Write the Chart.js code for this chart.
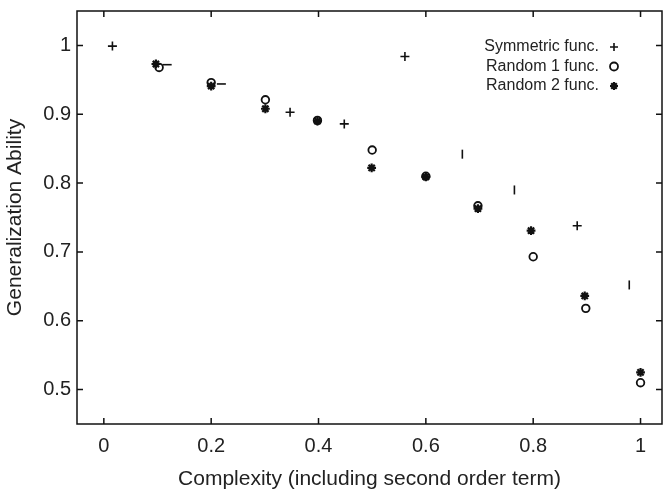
<!DOCTYPE html>
<html lang="en">
<head>
  <meta charset="UTF-8">
  <title>Generalization Ability vs Complexity</title>
  <script src="https://cdn.jsdelivr.net/npm/chart.js"></script>
  <style>
    html, body { margin: 0; padding: 0; background: #fff; }
  </style>
</head>
<body>
  <canvas id="chart" width="663" height="493"></canvas>

  <script>
    // Values
    const symX   = [0.016, 0.118, 0.219, 0.347, 0.448, 0.561, 0.668, 0.765, 0.882, 0.979];
    const symY   = [0.999, 0.972, 0.944, 0.903, 0.886, 0.984, 0.842, 0.790, 0.738, 0.652];
    const rand1X = [0.103, 0.200, 0.301, 0.398, 0.500, 0.600, 0.697, 0.800, 0.898, 1.000];
    const rand1Y = [0.968, 0.946, 0.921, 0.891, 0.848, 0.810, 0.767, 0.693, 0.618, 0.510];
    const rand2X = [0.097, 0.200, 0.301, 0.398, 0.499, 0.600, 0.697, 0.796, 0.896, 1.000];
    const rand2Y = [0.973, 0.941, 0.908, 0.890, 0.822, 0.809, 0.763, 0.731, 0.636, 0.525];
    const seriesNames = ['Symmetric func.', 'Random 1 func.', 'Random 2 func.'];
    const xTicks = [0, 0.2, 0.4, 0.6, 0.8, 1];
    const yTicks = [0.5, 0.6, 0.7, 0.8, 0.9, 1];

    // the symmetric markers show up partly as dashes / bars in the figure
    const symShape = ['cross', 'line', 'line', 'cross', 'cross', 'cross', 'line', 'line', 'cross', 'line'];
    const symRot   = [0, 0, 0, 0, 0, 0, 90, 90, 0, 90];

    const ink = '#111';
    const textColor = '#222';
    const fontFamily = '"Liberation Sans", Arial, Helvetica, sans-serif';

    const toPoints = (xs, ys) => xs.map((x, i) => ({ x: x, y: ys[i] }));
    const fmt = v => String(+Number(v).toFixed(2));

    // frame, inward tick marks and the in-plot legend
    const framePlugin = {
      id: 'frame',
      afterDraw(chart) {
        const { ctx, chartArea: a, scales } = chart;
        const len = 6;
        ctx.save();
        ctx.strokeStyle = ink;
        ctx.lineWidth = 1.5;
        ctx.strokeRect(a.left, a.top, a.right - a.left, a.bottom - a.top);

        ctx.beginPath();
        xTicks.forEach(v => {
          const px = scales.x.getPixelForValue(v);
          ctx.moveTo(px, a.bottom); ctx.lineTo(px, a.bottom - len);
          ctx.moveTo(px, a.top); ctx.lineTo(px, a.top + len);
        });
        yTicks.forEach(v => {
          const py = scales.y.getPixelForValue(v);
          ctx.moveTo(a.left, py); ctx.lineTo(a.left + len, py);
          ctx.moveTo(a.right, py); ctx.lineTo(a.right - len, py);
        });
        ctx.stroke();

        // legend: text right-aligned, marker to its right
        ctx.font = '16px ' + fontFamily;
        ctx.textAlign = 'right';
        ctx.textBaseline = 'middle';
        const textRight = a.right - 63;
        const markX = a.right - 48;
        chart.data.datasets.forEach((ds, i) => {
          const y = a.top + 36 + i * 19.5;
          ctx.fillStyle = textColor;
          ctx.fillText(ds.label, textRight, y);
          ctx.strokeStyle = ink;
          ctx.fillStyle = ds.backgroundColor;
          ctx.lineWidth = ds.pointBorderWidth;
          Chart.helpers.drawPoint(ctx, {
            pointStyle: ds.legendStyle,
            radius: 4,
            rotation: 0,
            borderWidth: ds.pointBorderWidth
          }, markX, y);
        });
        ctx.restore();
      }
    };

    const fixedTicks = list => scale => {
      scale.ticks = list.map(v => ({ value: v }));
    };

    // fixed axis sizes, no extra label overhang padding
    const fitAxis = (w, h) => scale => {
      if (w) scale.width = w;
      if (h) scale.height = h;
      scale.paddingTop = scale.paddingBottom = 0;
      scale.paddingLeft = scale.paddingRight = 0;
    };

    new Chart(document.getElementById('chart'), {
      type: 'scatter',
      data: {
        datasets: [
          {
            label: seriesNames[0],
            data: toPoints(symX, symY),
            legendStyle: 'cross',
            pointStyle: symShape,
            rotation: symRot,
            pointRadius: 4.5,
            pointBorderWidth: 1.6,
            borderColor: ink,
            backgroundColor: ink
          },
          {
            label: seriesNames[1],
            data: toPoints(rand1X, rand1Y),
            legendStyle: 'circle',
            pointStyle: 'circle',
            pointRadius: 3.8,
            pointBorderWidth: 1.8,
            borderColor: ink,
            backgroundColor: 'rgba(0,0,0,0)'
          },
          {
            label: seriesNames[2],
            data: toPoints(rand2X, rand2Y),
            legendStyle: 'star',
            pointStyle: 'star',
            pointRadius: 4.4,
            pointBorderWidth: 2.2,
            borderColor: ink,
            backgroundColor: ink
          }
        ]
      },
      options: {
        responsive: false,
        animation: false,
        layout: {
          autoPadding: false,
          padding: { top: 11, right: 1, left: 0, bottom: 0 }
        },
        plugins: {
          legend: { display: false },
          tooltip: { enabled: false }
        },
        scales: {
          x: {
            type: 'linear',
            min: -0.05,
            max: 1.04,
            afterBuildTicks: fixedTicks(xTicks),
            grid: { display: false, drawTicks: false },
            border: { display: false },
            ticks: {
              padding: 10,
              color: textColor,
              font: { family: fontFamily, size: 20 },
              callback: fmt
            },
            title: {
              display: true,
              text: 'Complexity (including second order term)',
              color: textColor,
              font: { family: fontFamily, size: 21 },
              padding: { top: 0, bottom: 1 }
            },
            afterFit: fitAxis(0, 69)
          },
          y: {
            type: 'linear',
            min: 0.45,
            max: 1.05,
            afterBuildTicks: fixedTicks(yTicks),
            grid: { display: false, drawTicks: false },
            border: { display: false },
            ticks: {
              padding: 6,
              color: textColor,
              font: { family: fontFamily, size: 20 },
              callback: fmt
            },
            title: {
              display: true,
              text: 'Generalization Ability',
              color: textColor,
              font: { family: fontFamily, size: 21 },
              padding: { top: 3, bottom: 0 }
            },
            afterFit: fitAxis(77, 0)
          }
        }
      },
      plugins: [framePlugin]
    });
  </script>
</body>
</html>
